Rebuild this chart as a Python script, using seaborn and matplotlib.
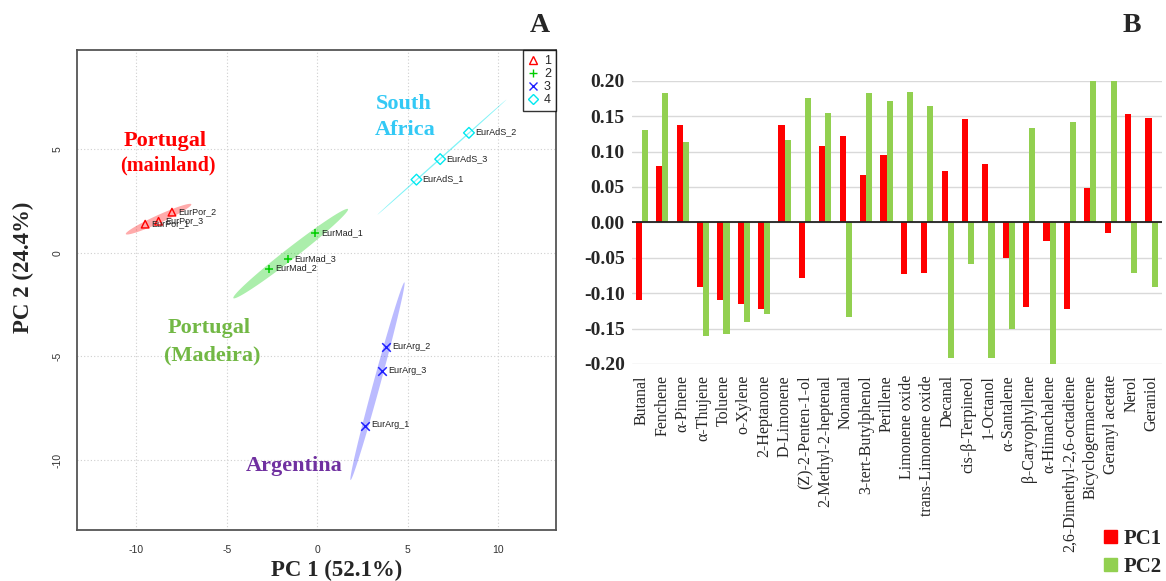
import numpy as np
import pandas as pd
import matplotlib
matplotlib.use("Agg")
import matplotlib.pyplot as plt
from matplotlib.lines import Line2D
from matplotlib.patches import Patch
import seaborn as sns

# ---------------- data: panel A (PCA scores) ----------------
group_ids = [1, 2, 3, 4]
por_names = ["EurPor_1", "EurPor_2", "EurPor_3"]
por_x = [-9.51, -8.03, -8.77]
por_y = [1.39, 1.97, 1.53]
mad_names = ["EurMad_1", "EurMad_2", "EurMad_3"]
mad_x = [-0.11, -2.69, -1.61]
mad_y = [0.95, -0.76, -0.29]
arg_names = ["EurArg_1", "EurArg_2", "EurArg_3"]
arg_x = [2.63, 3.78, 3.57]
arg_y = [-8.34, -4.53, -5.71]
ads_names = ["EurAdS_1", "EurAdS_2", "EurAdS_3"]
ads_x = [5.48, 8.38, 6.79]
ads_y = [3.54, 5.80, 4.53]

# ---------------- data: panel B (loadings) ----------------
compounds = ["Butanal", "Fenchene", "α-Pinene", "α-Thujene", "Toluene", "o-Xylene",
             "2-Heptanone", "D-Limonene", "(Z)-2-Penten-1-ol", "2-Methyl-2-heptenal",
             "Nonanal", "3-tert-Butylphenol", "Perillene", "Limonene oxide",
             "trans-Limonene oxide", "Decanal", "cis-β-Terpineol", "1-Octanol",
             "α-Santalene", "β-Caryophyllene", "α-Himachalene",
             "2,6-Dimethyl-2,6-octadiene", "Bicyclogermacrene", "Geranyl acetate",
             "Nerol", "Geraniol"]
pc1 = [-0.110, 0.079, 0.138, -0.091, -0.110, -0.115, -0.122, 0.138, -0.078, 0.108,
       0.122, 0.067, 0.095, -0.0735, -0.071, 0.072, 0.146, 0.083, -0.050, -0.119,
       -0.027, -0.123, 0.048, -0.015, 0.153, 0.148]
pc2 = [0.131, 0.183, 0.114, -0.160, -0.157, -0.140, -0.129, 0.116, 0.176, 0.154,
       -0.134, 0.183, 0.171, 0.184, 0.164, -0.192, -0.059, -0.192, -0.151, 0.133,
       -0.202, 0.141, 0.200, 0.200, -0.071, -0.091]
pc_labels = ["PC1", "PC2"]

W, H = 1166, 581
fig = plt.figure(figsize=(W / 100, H / 100), dpi=100)
sns.set_style("white")
plt.rcParams["font.family"] = ["Liberation Sans", "DejaVu Sans"]
plt.rcParams["axes.unicode_minus"] = False
SERIF = ["Liberation Serif", "DejaVu Serif"]

def fx(px):
    return px / W

def fy(py):
    return 1 - py / H

# ================= Panel A =================
axA = fig.add_axes([fx(77.3), fy(530), fx(556) - fx(77.3), fy(50) - fy(530)])
axA.set_xlim(-13.26, 13.19)
axA.set_ylim(-13.38, 9.80)
axA.set_xticks([-10, -5, 0, 5, 10])
axA.set_yticks([-10, -5, 0, 5])
axA.grid(True, color="#cfcfcf", linestyle=(0, (1, 2)), linewidth=0.8)
axA.set_axisbelow(True)

groups = [
    (por_names, por_x, por_y, "#ff0000", "^", True),
    (mad_names, mad_x, mad_y, "#00cd00", "+", False),
    (arg_names, arg_x, arg_y, "#2020ff", "x", False),
    (ads_names, ads_x, ads_y, "#00e8f0", "D", True),
]
fill_alpha = [0.33, 0.33, 0.30, 0.5]
r95 = np.sqrt(-2 * np.log(0.05))
t = np.linspace(0, 2 * np.pi, 200)
for (names, xs, ys, col, mk, hollow), fa in zip(groups, fill_alpha):
    pts = np.column_stack([xs, ys])
    mu = pts.mean(axis=0)
    cov = np.cov(pts.T)
    vals, vecs = np.linalg.eigh(cov)
    circ = np.column_stack([np.cos(t), np.sin(t)]) * (r95 * np.sqrt(vals))
    ell = circ @ vecs.T + mu
    axA.fill(ell[:, 0], ell[:, 1], color=col, alpha=fa, lw=0, zorder=1)
    df = pd.DataFrame({"x": xs, "y": ys})
    if hollow:
        sns.scatterplot(data=df, x="x", y="y", ax=axA, marker=mk, s=30,
                        facecolor="none", edgecolor=col, linewidth=1.0, zorder=3)
    else:
        sns.scatterplot(data=df, x="x", y="y", ax=axA, marker=mk, s=38,
                        color=col, linewidth=1.1, zorder=3)
    for n, xv, yv in zip(names, xs, ys):
        axA.annotate(n, (xv, yv), xytext=(4.5, 0.5), textcoords="offset points",
                     fontsize=6.5, color="#222222", va="center", ha="left", zorder=4)

axA.set_xlabel("")
axA.set_ylabel("")
for s in axA.spines.values():
    s.set_color("#555555")
    s.set_linewidth(1.3)
axA.tick_params(axis="both", direction="out", length=4, width=1, color="#555555",
                labelsize=7.5, labelcolor="#333333", pad=6.5)
for lab in axA.get_yticklabels():
    lab.set_rotation(90)
    lab.set_va("center")

leg_handles = [Line2D([], [], linestyle="none", marker=mk, markersize=5.5,
                      markerfacecolor="none" if hollow else col,
                      markeredgecolor=col, markeredgewidth=1.0)
               for (_, _, _, col, mk, hollow) in groups]
legA = axA.legend(leg_handles, [str(g) for g in group_ids], loc="upper right",
                  fontsize=9, frameon=True, fancybox=False, borderaxespad=0,
                  handlelength=0.8, handletextpad=0.45, labelspacing=0.08,
                  borderpad=0.4)
legA.get_frame().set_edgecolor("black")
legA.get_frame().set_linewidth(1.0)

# region labels: (text, centre x px, baseline y px, size, colour)
label_specs = [
    ("Portugal", 165, 146, 16, "#ff0000"),
    ("(mainland)", 167.5, 170, 14.5, "#ff0000"),
    ("South", 404, 109, 16, "#33c9f5"),
    ("Africa", 405, 135.5, 16, "#33c9f5"),
    ("Portugal", 209.5, 333, 16, "#72b845"),
    ("(Madeira)", 212, 360, 16, "#72b845"),
    ("Argentina", 294, 471, 16, "#7030a0"),
]
for txt, px, py, fs, c in label_specs:
    fig.text(fx(px), fy(py), txt, color=c, fontsize=fs, fontweight="bold",
             family=SERIF, ha="center", va="baseline")

fig.text(fx(337), fy(570), "PC 1 (52.1%)", fontsize=16.5, fontweight="bold",
         family=SERIF, ha="center", va="center")
fig.text(fx(23), fy(267), "PC 2 (24.4%)", fontsize=16.5, fontweight="bold",
         family=SERIF, ha="center", va="center", rotation=90)
fig.text(fx(540), fy(26), "A", fontsize=20, fontweight="bold", family=SERIF,
         ha="center", va="center")

# ================= Panel B =================
axB = fig.add_axes([fx(631.7), fy(364), fx(1161.7) - fx(631.7), fy(80.7) - fy(364)])
dfB = pd.DataFrame({
    "compound": compounds * 2,
    "loading": pc1 + pc2,
    "PC": [pc_labels[0]] * len(compounds) + [pc_labels[1]] * len(compounds),
})
bar_colors = ["#ff0000", "#92d050"]
sns.barplot(data=dfB, x="compound", y="loading", hue="PC", order=compounds,
            hue_order=pc_labels, palette=bar_colors, width=0.6, gap=0,
            saturation=1, errorbar=None, legend=False, ax=axB, linewidth=0,
            zorder=2)
axB.set_xlim(-0.5, len(compounds) - 0.5)
axB.set_ylim(-0.20, 0.20)
yt = np.round(np.arange(-0.20, 0.201, 0.05), 2)
axB.set_yticks(yt)
axB.set_yticklabels([f"{abs(v):.2f}" if abs(v) < 1e-9 else f"{v:.2f}" for v in yt])
axB.yaxis.grid(True, color="#d9d9d9", linewidth=1.0)
axB.set_axisbelow(True)
axB.axhline(0, color="#222222", linewidth=1.3, zorder=3)
for s in axB.spines.values():
    s.set_visible(False)
axB.set_xlabel("")
axB.set_ylabel("")
axB.tick_params(axis="y", length=0, pad=5)
axB.tick_params(axis="x", length=0, pad=8)
for lab in axB.get_yticklabels():
    lab.set_fontfamily(SERIF)
    lab.set_fontweight("bold")
    lab.set_fontsize(14)
for lab in axB.get_xticklabels():
    lab.set_fontfamily(SERIF)
    lab.set_fontsize(11.5)
    lab.set_rotation(90)
    lab.set_ha("center")
    lab.set_va("top")

legB = fig.legend([Patch(color=c) for c in bar_colors], pc_labels,
                  loc="upper left", bbox_to_anchor=(fx(1104), fy(529)),
                  frameon=False, handlelength=0.62, handleheight=0.62,
                  handletextpad=0.3, labelspacing=0.37, borderpad=0,
                  borderaxespad=0,
                  prop={"family": SERIF, "weight": "bold", "size": 15})
fig.text(fx(1132), fy(26), "B", fontsize=20, fontweight="bold", family=SERIF,
         ha="center", va="center")

fig.savefig("out.png", dpi=100)
